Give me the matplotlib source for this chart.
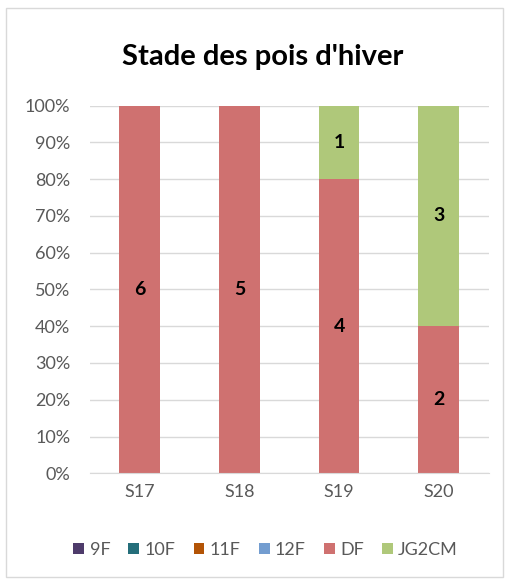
import matplotlib.pyplot as plt
import numpy as np
from matplotlib.patches import Rectangle

plt.rcParams['font.family'] = ['Lato', 'DejaVu Sans']

weeks = ['S17', 'S18', 'S19', 'S20']
stages = ['9F', '10F', '11F', '12F', 'DF', 'JG2CM']
counts = {
    '9F': [0, 0, 0, 0],
    '10F': [0, 0, 0, 0],
    '11F': [0, 0, 0, 0],
    '12F': [0, 0, 0, 0],
    'DF': [6, 5, 4, 2],
    'JG2CM': [0, 0, 1, 3],
}
colors = ['#4e3b6b', '#246e7a', '#b35406', '#739dd0', '#cf7170', '#afc87a']

totals = np.sum([counts[s] for s in stages], axis=0)

fig = plt.figure(figsize=(5.11, 5.80), dpi=100)
fig.patches.append(Rectangle((0.012, 0.006), 0.972, 0.98, transform=fig.transFigure,
                             fill=False, edgecolor='#d9d9d9', linewidth=1))
ax = fig.add_axes([0.176, 0.184, 0.78, 0.634])

x = np.arange(len(weeks))
bottom = np.zeros(len(weeks))
for s, c in zip(stages, colors):
    vals = np.array(counts[s]) / totals
    ax.bar(x, vals, 0.41, bottom=bottom, color=c, label=s, zorder=2)
    for i, (v, n) in enumerate(zip(vals, counts[s])):
        if n > 0:
            ax.text(x[i], bottom[i] + v / 2, str(n), ha='center', va='center',
                    fontsize=14, fontweight='bold', color='black', zorder=3)
    bottom += vals

ax.set_xlim(-0.5, 3.5)
ax.set_ylim(0, 1)
ax.set_yticks(np.arange(0, 1.01, 0.1))
ax.set_yticklabels([f'{int(round(t * 100))}%' for t in np.arange(0, 1.01, 0.1)])
ax.set_xticks(x)
ax.set_xticklabels(weeks)
ax.yaxis.grid(True, color='#d9d9d9', linewidth=1, zorder=0)
ax.tick_params(axis='both', length=0, labelsize=13, colors='#595959')
ax.tick_params(axis='x', pad=8)
ax.tick_params(axis='y', pad=14)
for sp in ['top', 'right', 'left']:
    ax.spines[sp].set_visible(False)
ax.spines['bottom'].set_color('#d9d9d9')

fig.text(0.515, 0.902, "Stade des pois d'hiver", ha='center', va='center',
         fontsize=21, fontweight='bold', color='black')

fig.legend(loc='center', bbox_to_anchor=(0.52, 0.052), ncol=6, frameon=False,
           fontsize=13, handlelength=0.6, handleheight=0.6, handletextpad=0.3,
           columnspacing=1.0, labelcolor='#595959')

fig.savefig('out.png', dpi=100)
